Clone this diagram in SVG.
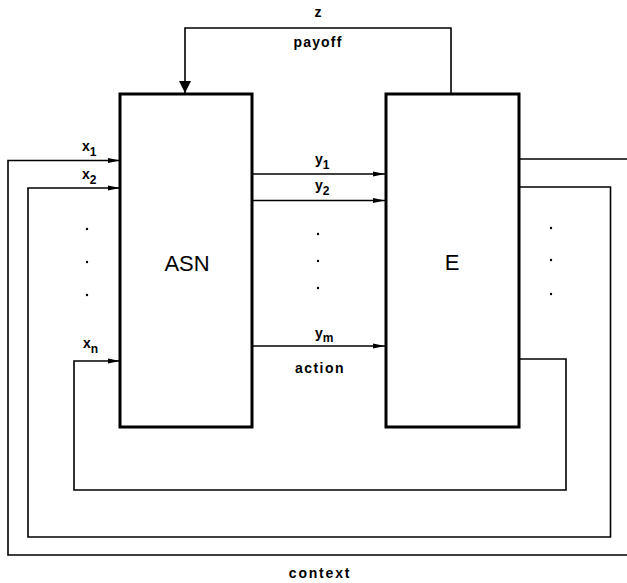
<svg xmlns="http://www.w3.org/2000/svg" width="627" height="583" viewBox="0 0 627 583">
<style>
.box{fill:#fff;stroke:#000;stroke-width:3}
.ln{fill:none;stroke:#000;stroke-width:1.6}
.lbl{font-family:"Liberation Sans",Arial,sans-serif;font-weight:bold;font-size:14px;fill:#000}
.sub{font-size:12px}
.big{font-family:"Liberation Sans",Arial,sans-serif;font-size:22px;fill:#000}
.dot{fill:#000}
</style>
<defs>
<marker id="ah" markerWidth="12" markerHeight="8" refX="12" refY="4" orient="auto" markerUnits="userSpaceOnUse">
<path d="M0,1.5 L12,4 L0,6.5 Z" fill="#000"/>
</marker>
<marker id="ahb" markerWidth="14" markerHeight="12" refX="12" refY="6" orient="auto" markerUnits="userSpaceOnUse">
<path d="M0,0 L12,6 L0,12 Z" fill="#000"/>
</marker>
</defs>
<g id="connectors">
<path class="ln" d="M451,94 V28 H185 V93" marker-end="url(#ahb)"/>
<path class="ln" d="M252,174 H385" marker-end="url(#ah)"/>
<path class="ln" d="M252,200.5 H385" marker-end="url(#ah)"/>
<path class="ln" d="M252,346 H385" marker-end="url(#ah)"/>
<path class="ln" d="M519,159 H627"/>
<path class="ln" d="M627,555 H8 V160.5 H120" marker-end="url(#ah)"/>
<path class="ln" d="M519,187 H610.5 V537 H28 V188 H120" marker-end="url(#ah)"/>
<path class="ln" d="M519,359 H566 V490 H74 V361 H120" marker-end="url(#ah)"/>
</g>
<g id="ASN">
<rect class="box" x="120" y="94" width="132" height="333"/>
<text class="big" x="187" y="271" text-anchor="middle">ASN</text>
</g>
<g id="E">
<rect class="box" x="386" y="94" width="133" height="333"/>
<text class="big" x="452" y="270" text-anchor="middle">E</text>
</g>
<g id="labels">
<text class="lbl" x="318" y="17" text-anchor="middle">z</text>
<text class="lbl" x="318" y="47" text-anchor="middle" letter-spacing="1.2">payoff</text>
<text class="lbl" x="82" y="151">x<tspan class="sub" dy="5">1</tspan></text>
<text class="lbl" x="82" y="179">x<tspan class="sub" dy="5">2</tspan></text>
<text class="lbl" x="83" y="348">x<tspan class="sub" dy="5">n</tspan></text>
<text class="lbl" x="315" y="164">y<tspan class="sub" dy="5">1</tspan></text>
<text class="lbl" x="315" y="190">y<tspan class="sub" dy="5">2</tspan></text>
<text class="lbl" x="315" y="338">y<tspan class="sub" dy="4">m</tspan></text>
<text class="lbl" x="320" y="373" text-anchor="middle" letter-spacing="1.5">action</text>
<text class="lbl" x="320" y="578" text-anchor="middle" letter-spacing="1.8">context</text>
</g>
<g id="dots">
<circle class="dot" cx="87" cy="229" r="1.2"/>
<circle class="dot" cx="87" cy="262" r="1.2"/>
<circle class="dot" cx="87" cy="295" r="1.2"/>
<circle class="dot" cx="318" cy="234" r="1.2"/>
<circle class="dot" cx="318" cy="261" r="1.2"/>
<circle class="dot" cx="318" cy="288" r="1.2"/>
<circle class="dot" cx="551" cy="228" r="1.2"/>
<circle class="dot" cx="551" cy="260" r="1.2"/>
<circle class="dot" cx="551" cy="294" r="1.2"/>
</g>
</svg>
